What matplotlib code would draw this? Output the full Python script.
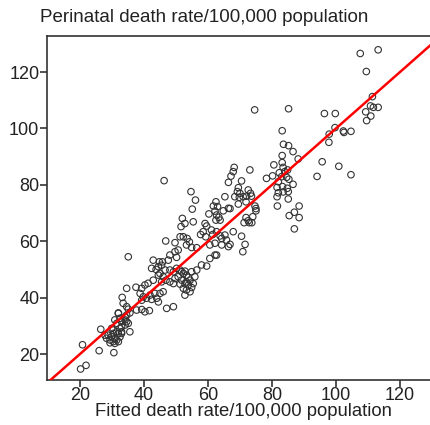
import matplotlib
matplotlib.use("Agg")
import matplotlib.pyplot as plt
import numpy as np

plt.rcParams['font.family'] = ['Liberation Sans', 'DejaVu Sans']

# Fitted (x) and observed (y) perinatal death rates per 100,000 population
fitted = [
    # high range
    107.6, 113.2, 109.5, 111.4, 110.8, 111.7, 113.2, 109.3, 110.9, 109.6,
    96.4, 99.8, 99.7, 97.9, 97.8, 102.3, 102.5, 104.7, 95.7, 100.9, 104.7,
    # 75-95
    85.2, 83.2, 83.6, 85.2, 86.6, 83.2, 88.2, 83.2, 80.6, 83.5,
    82.3, 84.0, 84.9, 80.2, 78.3, 83.0, 84.6, 85.3, 82.0, 86.6,
    81.6, 83.3, 84.8, 82.0, 83.5, 85.1, 81.6, 85.1, 81.7, 88.5,
    87.0, 85.4, 88.5, 87.0, 94.1, 74.6,
    # 51-75 upper
    68.2, 67.9, 67.2, 66.4, 70.5, 73.1, 54.7, 56.1, 55.1, 69.5,
    69.2, 70.0, 68.4, 69.8, 71.0, 72.6, 73.3, 73.6, 72.1, 65.3,
    62.5, 61.7, 63.0, 64.8, 66.4, 62.2, 62.7, 63.4, 60.3, 62.5,
    63.8, 52.0, 52.8, 55.4, 51.6, 51.3, 52.3, 53.5, 54.2, 53.3,
    54.9, 56.5, 59.1, 59.6, 61.1, 58.5, 57.7, 59.3, 61.5, 62.7,
    63.8, 65.3, 64.3, 62.2, 60.6, 64.3, 65.8, 66.4,
    66.9, 69.5, 71.9, 74.7, 75.0, 75.0, 71.9, 74.0, 72.6, 71.3,
    73.7, 72.9, 67.9, 70.5, 66.9, 71.6, 70.9,
    # 35-60 middle
    46.3, 46.8, 35.1, 49.7, 50.7, 49.7, 48.1, 50.2, 47.6, 45.8,
    44.8, 42.9, 45.5, 44.5, 43.8, 42.4, 46.6, 48.1, 49.2, 50.2,
    50.7, 49.7, 49.2, 48.1, 49.2,
    51.8, 51.3, 52.3, 53.3, 52.8, 53.9, 54.9, 53.3, 54.4, 52.8,
    53.3, 53.9, 54.4, 52.3, 52.8, 51.8, 51.3, 55.4, 55.9, 54.9,
    56.5, 58.0, 59.6, 62.2, 62.7, 60.6,
    # low range
    20.2, 21.9, 20.8, 26.0, 30.6, 26.5,
    27.8, 28.3, 29.4, 28.8, 29.9, 30.4, 30.9, 31.5, 30.4, 29.4,
    30.9, 32.5, 32.0, 33.0, 30.4, 29.9, 32.0,
    32.0, 30.9, 32.5, 31.5, 33.0, 34.1, 34.6, 35.1, 34.1, 33.0,
    32.5, 35.6, 33.0, 31.5,
    33.2, 33.5, 34.6, 35.1, 32.0,
    34.6, 37.5, 39.3, 40.3, 41.3, 42.9, 44.5, 45.0, 46.0, 46.9, 45.5,
    38.8, 39.8, 39.3, 40.8, 41.9, 42.4, 44.0, 44.5, 43.4, 45.0, 46.0,
    37.7, 39.3, 40.3, 41.7, 35.6, 47.1, 34.1, 34.6,
]
observed = [
    126.6, 127.9, 120.2, 111.3, 108.0, 107.5, 107.5, 105.9, 104.4, 102.8,
    105.3, 105.3, 100.3, 98.0, 95.1, 99.1, 98.6, 99.0, 88.2, 86.6, 83.6,
    107.0, 99.2, 94.4, 93.9, 91.8, 90.4, 89.2, 87.9, 87.1, 86.2,
    84.3, 84.7, 85.3, 83.2, 82.3, 82.9, 82.7, 82.0, 81.1, 80.2,
    79.1, 79.4, 78.8, 77.2, 77.5, 77.6, 75.8, 75.0, 72.5, 72.5,
    70.3, 69.1, 68.4, 64.4, 83.0, 106.6,
    86.2, 84.7, 83.1, 80.9, 81.4, 85.3, 77.6, 74.6, 71.4, 79.0,
    77.6, 77.0, 75.8, 75.6, 75.8, 78.2, 77.0, 76.0, 76.0, 75.8,
    74.0, 72.5, 72.3, 70.8, 71.7, 70.7, 69.3, 68.5, 69.7, 67.5,
    67.5, 68.1, 66.3, 66.9, 65.2, 61.6, 61.6, 61.0, 59.8, 58.7,
    57.8, 57.7, 66.3, 65.4, 64.0, 63.4, 62.4, 61.6, 62.4, 63.4,
    61.9, 62.2, 61.0, 59.3, 58.7, 58.7, 60.4, 58.1,
    71.6, 73.2, 74.0, 72.5, 71.6, 70.8, 68.4, 68.7, 67.3, 66.6,
    66.6, 66.6, 63.4, 61.8, 58.9, 58.9, 56.3,
    81.5, 60.1, 54.5, 59.5, 56.9, 56.3, 55.1, 54.3, 53.3, 52.7,
    52.7, 53.3, 51.5, 51.0, 50.0, 50.4, 49.8, 49.8, 49.2, 50.4,
    47.4, 46.8, 45.0, 45.6, 36.8,
    46.2, 44.8, 43.3, 45.6, 45.0, 44.5, 43.6, 42.7, 42.1, 40.9,
    48.0, 47.2, 46.2, 48.6, 49.4, 49.2, 49.8, 45.0, 47.4, 49.2,
    49.8, 51.6, 51.2, 55.1, 55.1, 53.9,
    14.7, 16.0, 23.3, 21.2, 20.5, 28.8,
    26.7, 25.6, 25.0, 26.7, 26.1, 27.3, 25.6, 25.0, 24.4, 24.0,
    23.8, 26.1, 27.3, 27.9, 28.5, 29.1, 24.4,
    34.4, 32.1, 32.7, 30.9, 31.5, 32.1, 31.5, 30.9, 30.3, 29.7,
    29.1, 27.9, 27.3, 27.9,
    40.1, 38.0, 36.8, 35.9, 34.6,
    43.3, 43.7, 43.3, 44.5, 45.1, 46.2, 48.0, 48.6, 47.4, 46.2, 45.6,
    41.5, 40.3, 39.1, 39.8, 40.9, 39.4, 39.8, 38.5, 41.5, 41.5, 42.1,
    35.6, 35.8, 35.0, 35.4, 34.6, 36.2, 33.2, 33.8,
]

x_ticks = [20, 40, 60, 80, 100, 120]
y_ticks = [20, 40, 60, 80, 100, 120]
title_text = "Perinatal death rate/100,000 population"
xlabel_text = "Fitted death rate/100,000 population"

fig = plt.figure(figsize=(4.30, 4.25), dpi=100)
ax = fig.add_axes([47/430, 1 - 380/425, 391/430, 344/425])

ax.scatter(fitted, observed, s=22, facecolors='none', edgecolors='#333333',
           linewidths=0.8, zorder=3)
ax.plot([0, 140], [0, 140], color='#ff0000', lw=1.8, zorder=4)

ax.set_xlim(9.7, 131.9)
ax.set_ylim(10.8, 132.8)
ax.set_xticks(x_ticks)
ax.set_yticks(y_ticks)
ax.tick_params(axis='both', labelsize=13, length=5, width=1.2, colors='#333333',
               labelcolor='#222222', pad=0.5)
ax.tick_params(axis='x', pad=0)
for side in ['left', 'bottom', 'top']:
    ax.spines[side].set_linewidth(1.2)
    ax.spines[side].set_color('#333333')
ax.spines['right'].set_visible(False)

fig.text(204/430, 1 - 18/425, title_text, ha='center', va='center',
         fontsize=13.5, color='#222222')
fig.text(243/430, 1 - 412/425, xlabel_text, ha='center', va='center',
         fontsize=13.3, color='#222222')

fig.savefig("out.png", dpi=100)
